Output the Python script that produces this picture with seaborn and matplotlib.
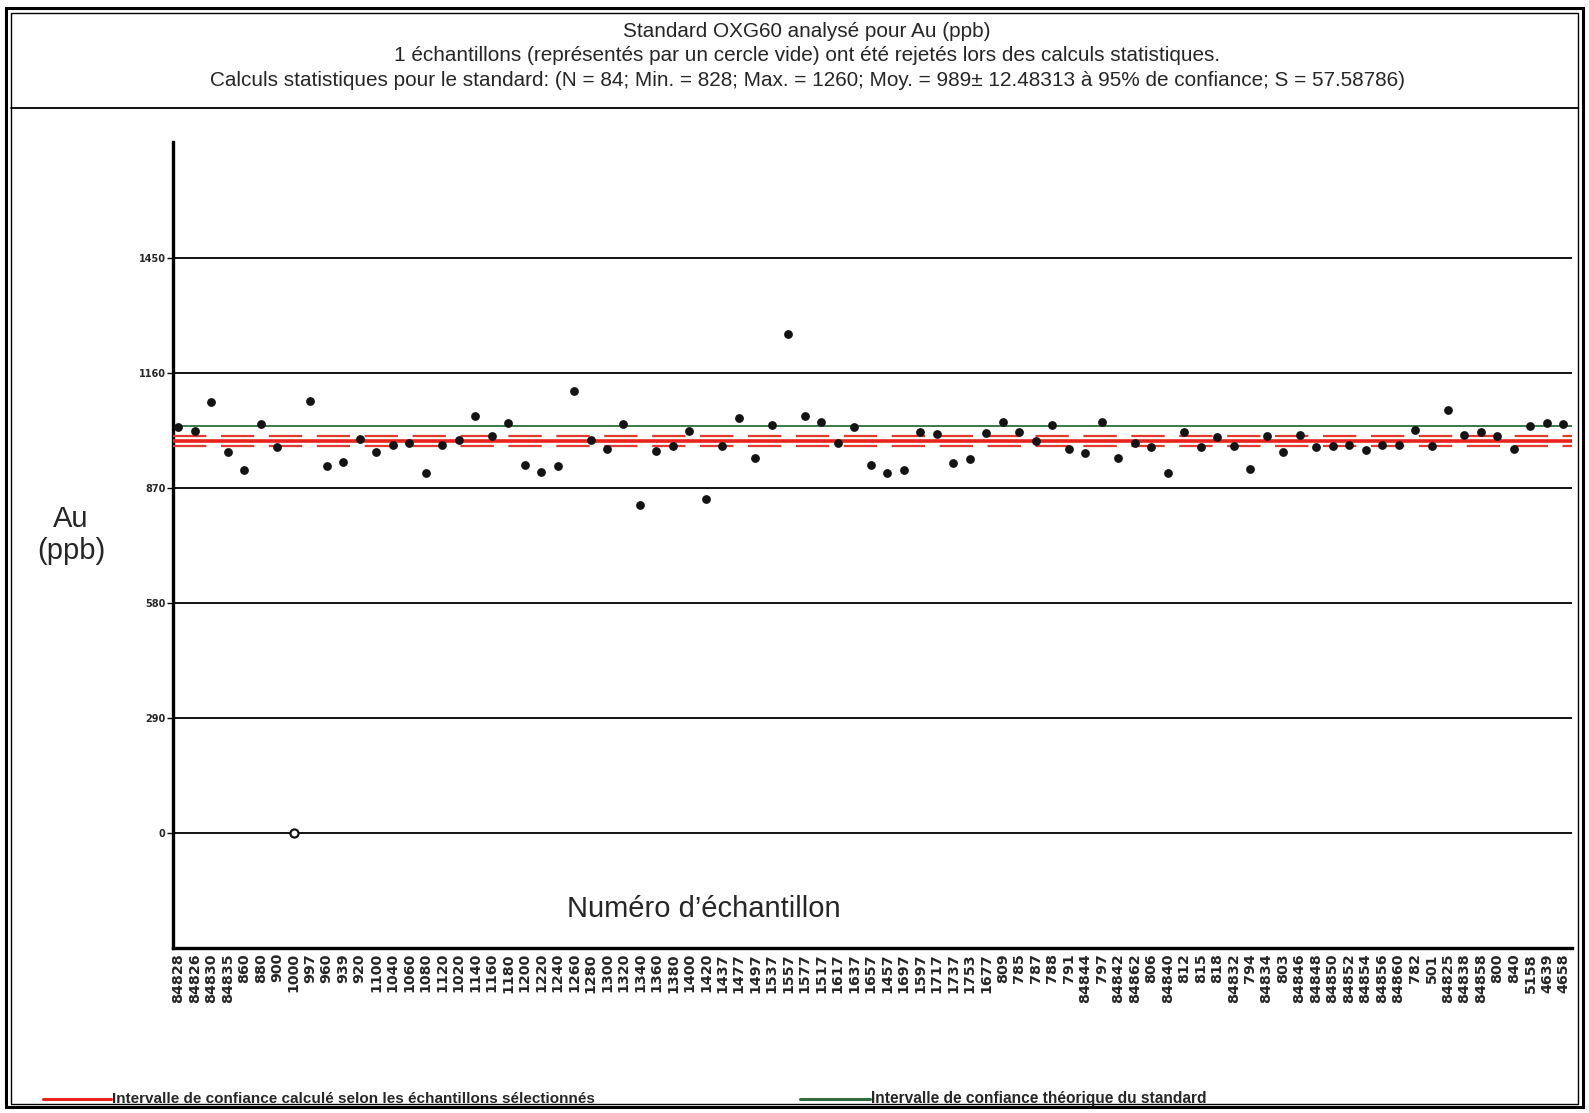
import numpy as np
import pandas as pd
import matplotlib
matplotlib.use("Agg")
import matplotlib.pyplot as plt
import seaborn as sns
from matplotlib.lines import Line2D
from matplotlib.patches import Rectangle

# ---------------- data ----------------
samples = ["84828", "84826", "84830", "84835", "860", "880", "900", "1000", "997", "960",
           "939", "920", "1100", "1040", "1060", "1080", "1120", "1020", "1140", "1160",
           "1180", "1200", "1220", "1240", "1260", "1280", "1300", "1320", "1340", "1360",
           "1380", "1400", "1420", "1437", "1477", "1497", "1537", "1557", "1577", "1517",
           "1617", "1637", "1657", "1457", "1697", "1597", "1717", "1737", "1753", "1677",
           "809", "785", "787", "788", "791", "84844", "797", "84842", "84862", "806",
           "84840", "812", "815", "818", "84832", "794", "84834", "803", "84846", "84848",
           "84850", "84852", "84854", "84856", "84860", "782", "501", "84825", "84838", "84858",
           "800", "840", "5158", "4639", "4658"]
au_ppb = [1025, 1015, 1088, 962, 915, 1032, 974, 0, 1091, 925,
          937, 995, 962, 979, 983, 908, 980, 992, 1051, 1002,
          1034, 929, 910, 926, 1115, 991, 968, 1033, 828, 964,
          977, 1015, 842, 976, 1047, 947, 1030, 1260, 1051, 1036,
          984, 1025, 929, 908, 915, 1012, 1007, 934, 944, 1008,
          1038, 1012, 988, 1030, 970, 959, 1036, 945, 985, 975,
          909, 1011, 973, 999, 977, 918, 1002, 960, 1004, 973,
          977, 979, 966, 980, 980, 1017, 977, 1068, 1004, 1011,
          1002, 970, 1028, 1034, 1032]
rejected_samples = ["1000"]
mean_calc = 989
ci_calc = 12.48313
theo_line = 1027
y_ticks = [0, 290, 580, 870, 1160, 1450]

title_lines = [
    "Standard OXG60 analysé pour Au (ppb)",
    "1 échantillons (représentés par un cercle vide) ont été rejetés lors des calculs statistiques.",
    "Calculs statistiques pour le standard: (N = 84; Min. = 828; Max. = 1260; Moy. = 989± 12.48313 à 95% de confiance; S = 57.58786)",
]
legend_calc = "Intervalle de confiance calculé selon les échantillons sélectionnés"
legend_theo = "Intervalle de confiance théorique du standard"

# ---------------- figure ----------------
sns.set_style("white")
plt.rcParams['font.family'] = ['Liberation Sans', 'DejaVu Sans']
plt.rcParams['lines.scale_dashes'] = False

W, H = 1589, 1113
fig = plt.figure(figsize=(W / 100, H / 100), dpi=100)
renderer = fig.canvas.get_renderer()


def fx(x):
    return x / W


def fy(y):
    return 1 - y / H


ax = fig.add_axes([fx(172.5), fy(947.5), fx(1572) - fx(172.5), fy(142) - fy(947.5)])

df = pd.DataFrame({"Échantillon": samples, "Au": au_ppb})
df["pos"] = np.arange(len(df))
df["Statut"] = np.where(df["Échantillon"].isin(rejected_samples), "rejeté", "sélectionné")

sel = df[df["Statut"] == "sélectionné"]
rej = df[df["Statut"] == "rejeté"]

# grid lines
for t in y_ticks:
    ax.axhline(t, color="black", lw=1.3, zorder=1)

# theoretical interval (green)
ax.axhline(theo_line, color="#3a7a48", lw=1.4, zorder=2)
# computed interval (red)
ax.axhline(mean_calc, color="#e8231d", lw=2.6, zorder=3)
for v in (mean_calc - ci_calc, mean_calc + ci_calc):
    ax.axhline(v, color="#e23a2c", lw=1.6, ls=(0, (24, 10.5)), zorder=3)

sns.scatterplot(data=sel, x="pos", y="Au", ax=ax, color="#141414", s=40,
                marker="o", linewidth=0, zorder=6, legend=False)
sns.scatterplot(data=rej, x="pos", y="Au", ax=ax, facecolor="white",
                edgecolor="#141414", s=34, marker="o", linewidth=1.6, zorder=6, legend=False)

ax.set_xlim(-0.35, 84.52)
ax.set_ylim(-290, 1744)
ax.set_xticks(df["pos"].to_numpy(), df["Échantillon"].tolist())
ax.set_yticks(y_ticks, [str(t) for t in y_ticks])
for lab in ax.get_xticklabels():
    lab.set_rotation(90)
    lab.set_fontfamily("DejaVu Sans")
    lab.set_fontweight("bold")
    lab.set_fontsize(10.3)
for lab in ax.get_yticklabels():
    lab.set_fontfamily("DejaVu Sans")
    lab.set_fontweight("bold")
    lab.set_fontsize(7)
ax.tick_params(axis="x", length=0, pad=4)
ax.tick_params(axis="y", length=4, width=1, pad=1, color="black", left=True)
ax.set_xlabel("")
ax.set_ylabel("")
for s in ["top", "right"]:
    ax.spines[s].set_visible(False)
for s in ["left", "bottom"]:
    ax.spines[s].set_linewidth(2.4)
    ax.spines[s].set_color("black")
ax.grid(False)

# axis titles
fig.text(fx(71), fy(535), "Au\n(ppb)", ha="center", va="center", fontsize=21,
         linespacing=1.15)
fig.text(fx(704), fy(909), "Numéro d’échantillon", ha="center", va="center", fontsize=21)


def fit_width(txt, width_px):
    w = txt.get_window_extent(renderer).width
    txt.set_fontsize(txt.get_fontsize() * width_px / w)


# title block
title_y = [31.5, 55.8, 80.2]
title_w = [369, None, 1196]
texts = []
for line, yy in zip(title_lines, title_y):
    t = fig.text(fx(807), fy(yy), line, ha="center", va="center", fontsize=12)
    texts.append(t)
fit_width(texts[2], 1196)
for t in texts[:2]:
    t.set_fontsize(texts[2].get_fontsize())

# legend
fig.add_artist(Line2D([fx(43), fx(111)], [fy(1099), fy(1099)], color="#e8231d", lw=2.2))
t1 = fig.text(fx(112), fy(1099), legend_calc, ha="left", va="center", fontsize=9,
              fontweight="bold")
fit_width(t1, 479)
fig.add_artist(Line2D([fx(800), fx(870)], [fy(1099), fy(1099)], color="#2f6b3c", lw=2.2))
t2 = fig.text(fx(871), fy(1099), legend_theo, ha="left", va="center", fontsize=9,
              fontweight="bold")
fit_width(t2, 335)

# frames
fig.add_artist(Rectangle((fx(6), fy(1107)), fx(1583) - fx(6), fy(8) - fy(1107),
                         transform=fig.transFigure, fill=False, lw=2.2, ec="black"))
fig.add_artist(Rectangle((fx(11), fy(1104)), fx(1578) - fx(11), fy(13) - fy(1104),
                         transform=fig.transFigure, fill=False, lw=1.0, ec="black"))
fig.add_artist(Line2D([fx(11), fx(1578)], [fy(108), fy(108)], color="black", lw=1.3))

fig.savefig("out.png", dpi=100)
